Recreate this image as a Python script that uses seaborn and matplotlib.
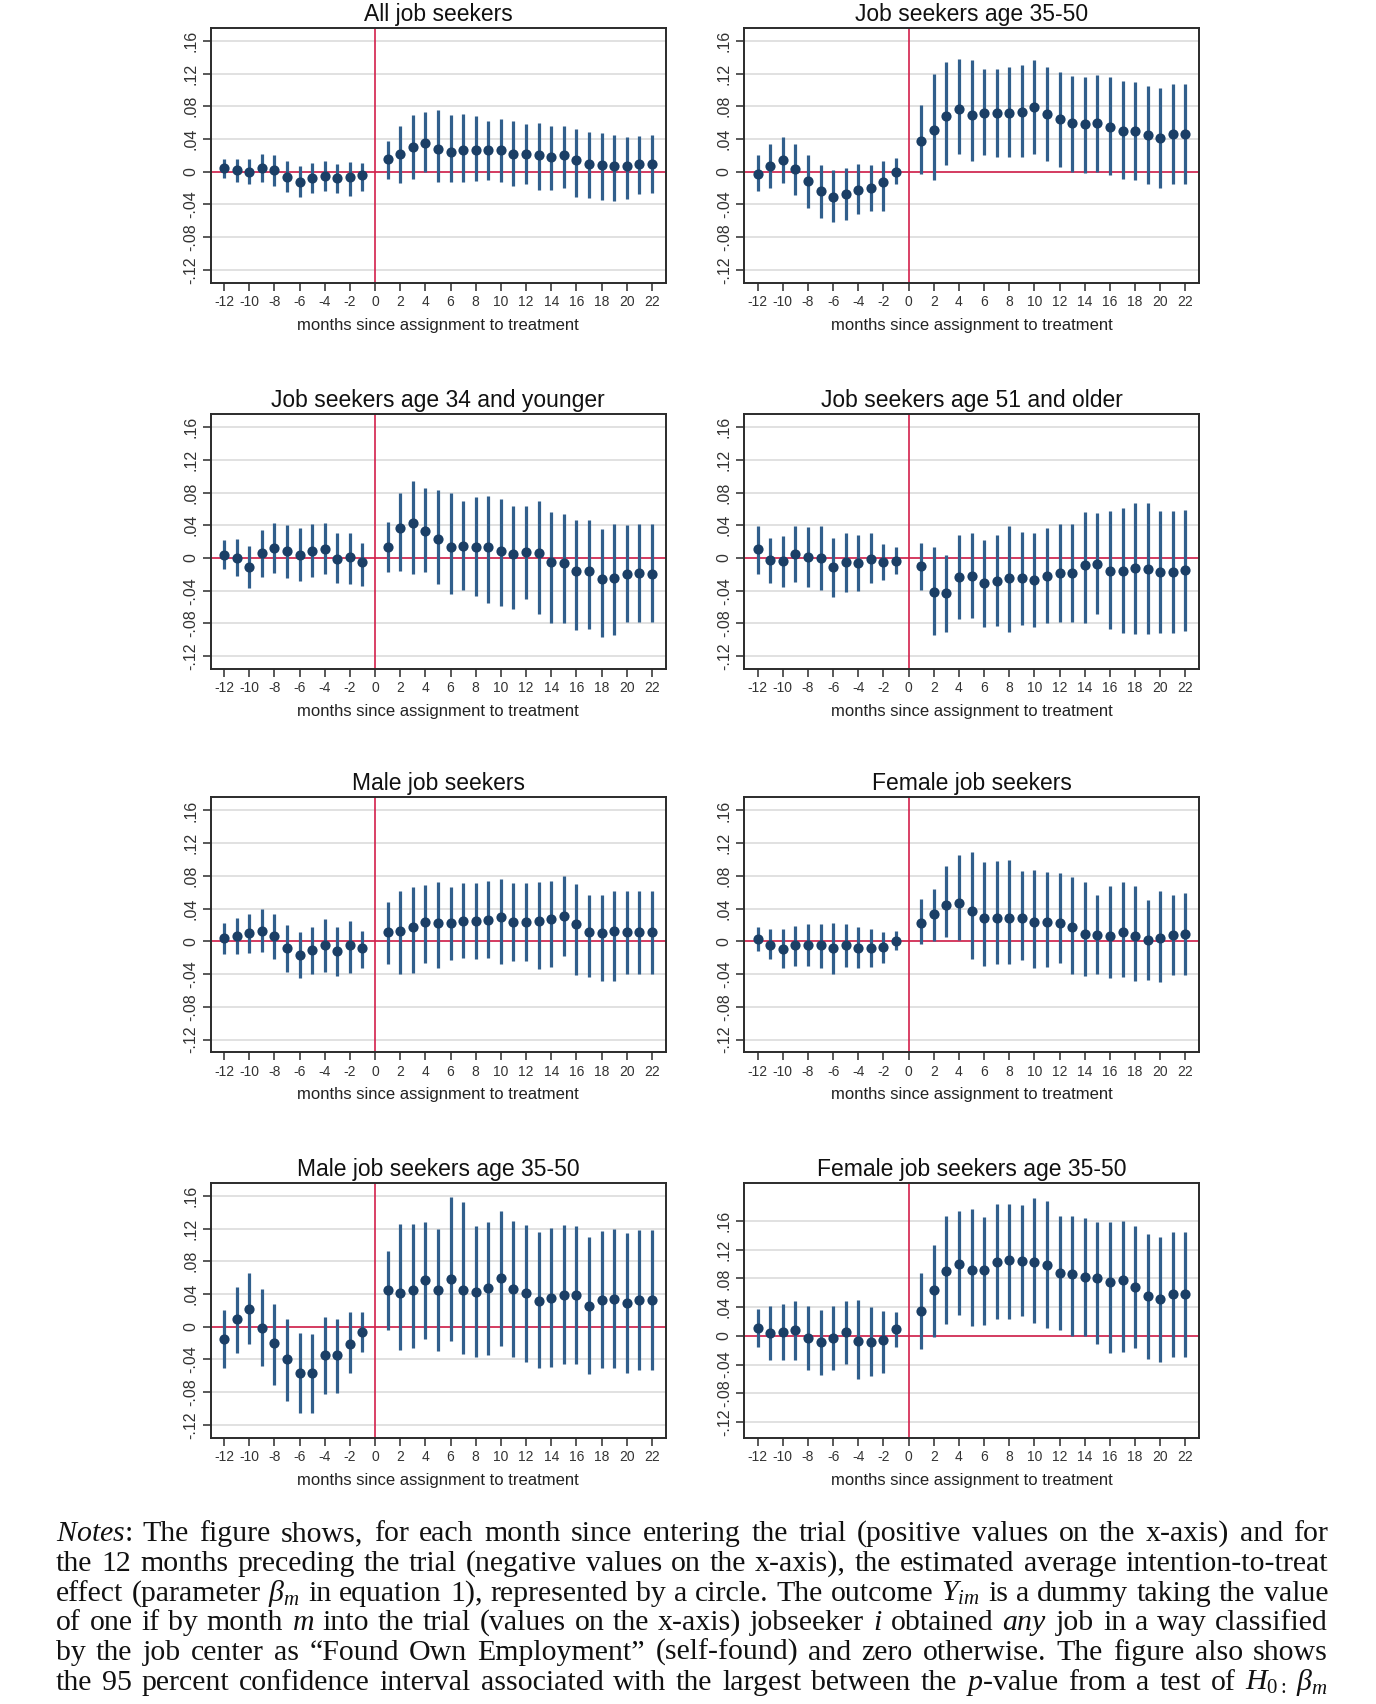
import numpy as np
import pandas as pd
import matplotlib
matplotlib.use("Agg")
import matplotlib.pyplot as plt
import seaborn as sns

# ---------------- data ----------------
months = list(range(-12, 0)) + list(range(1, 23))

titles = ["All job seekers", "Job seekers age 35-50",
          "Job seekers age 34 and younger", "Job seekers age 51 and older",
          "Male job seekers", "Female job seekers",
          "Male job seekers age 35-50", "Female job seekers age 35-50"]

all_est = [0.004, 0.002, 0.000, 0.005, 0.002, -0.006, -0.012, -0.008, -0.005, -0.008, -0.007, -0.004,
           0.015, 0.022, 0.030, 0.035, 0.028, 0.024, 0.026, 0.026, 0.026, 0.026, 0.022, 0.022, 0.020, 0.018,
           0.020, 0.014, 0.010, 0.008, 0.007, 0.007, 0.009, 0.009]
all_hi = [0.015, 0.016, 0.016, 0.022, 0.020, 0.013, 0.007, 0.011, 0.013, 0.009, 0.012, 0.011,
          0.037, 0.056, 0.069, 0.073, 0.076, 0.069, 0.070, 0.068, 0.062, 0.064, 0.062, 0.058, 0.059, 0.056,
          0.056, 0.052, 0.049, 0.047, 0.045, 0.043, 0.044, 0.045]
all_lo = [-0.008, -0.012, -0.015, -0.013, -0.017, -0.025, -0.031, -0.026, -0.024, -0.026, -0.030, -0.024,
          -0.009, -0.014, -0.009, 0.000, -0.012, -0.013, -0.012, -0.011, -0.010, -0.013, -0.018, -0.015,
          -0.022, -0.022, -0.020, -0.031, -0.032, -0.035, -0.036, -0.033, -0.027, -0.026]

mid_est = [-0.003, 0.007, 0.014, 0.003, -0.011, -0.024, -0.031, -0.027, -0.022, -0.020, -0.013, 0.000,
           0.038, 0.051, 0.068, 0.077, 0.069, 0.072, 0.072, 0.072, 0.073, 0.079, 0.070, 0.064, 0.059, 0.058,
           0.059, 0.055, 0.050, 0.050, 0.045, 0.041, 0.046, 0.046]
mid_hi = [0.020, 0.034, 0.043, 0.034, 0.021, 0.008, 0.002, 0.004, 0.009, 0.008, 0.013, 0.017,
          0.082, 0.119, 0.134, 0.138, 0.136, 0.126, 0.126, 0.128, 0.130, 0.136, 0.128, 0.122, 0.117, 0.116,
          0.118, 0.116, 0.111, 0.110, 0.105, 0.102, 0.107, 0.107]
mid_lo = [-0.024, -0.020, -0.014, -0.029, -0.044, -0.057, -0.062, -0.059, -0.052, -0.048, -0.048, -0.015,
          -0.003, -0.010, 0.008, 0.022, 0.013, 0.020, 0.018, 0.018, 0.018, 0.022, 0.013, 0.006, 0.000, -0.001,
          0.000, -0.004, -0.009, -0.010, -0.015, -0.020, -0.015, -0.015]

young_est = [0.004, 0.000, -0.011, 0.006, 0.012, 0.008, 0.004, 0.009, 0.011, -0.001, 0.001, -0.005,
             0.014, 0.037, 0.043, 0.033, 0.023, 0.014, 0.015, 0.013, 0.013, 0.009, 0.005, 0.007, 0.006, -0.005,
             -0.006, -0.016, -0.016, -0.026, -0.024, -0.019, -0.018, -0.019]
young_hi = [0.022, 0.023, 0.015, 0.034, 0.043, 0.040, 0.037, 0.042, 0.043, 0.030, 0.030, 0.018,
            0.044, 0.079, 0.094, 0.085, 0.083, 0.079, 0.070, 0.074, 0.076, 0.072, 0.064, 0.063, 0.070, 0.056,
            0.054, 0.046, 0.046, 0.036, 0.041, 0.040, 0.041, 0.041]
young_lo = [-0.014, -0.022, -0.037, -0.023, -0.018, -0.024, -0.028, -0.023, -0.020, -0.031, -0.032, -0.034,
            -0.017, -0.016, -0.020, -0.017, -0.032, -0.044, -0.039, -0.046, -0.055, -0.059, -0.062, -0.050,
            -0.069, -0.079, -0.080, -0.088, -0.087, -0.097, -0.094, -0.078, -0.078, -0.078]

old_est = [0.011, -0.003, -0.004, 0.005, 0.001, 0.000, -0.011, -0.005, -0.006, -0.001, -0.005, -0.004,
           -0.010, -0.042, -0.043, -0.023, -0.022, -0.031, -0.028, -0.024, -0.025, -0.027, -0.022, -0.018,
           -0.018, -0.009, -0.007, -0.016, -0.016, -0.012, -0.013, -0.017, -0.017, -0.015]
old_hi = [0.039, 0.024, 0.027, 0.039, 0.038, 0.039, 0.025, 0.031, 0.028, 0.030, 0.017, 0.013,
          0.018, 0.013, 0.004, 0.028, 0.031, 0.022, 0.028, 0.039, 0.032, 0.031, 0.037, 0.042, 0.042, 0.056,
          0.055, 0.058, 0.061, 0.067, 0.067, 0.057, 0.057, 0.059]
old_lo = [-0.020, -0.031, -0.036, -0.029, -0.035, -0.039, -0.048, -0.041, -0.040, -0.031, -0.027, -0.020,
          -0.039, -0.094, -0.090, -0.074, -0.073, -0.084, -0.083, -0.090, -0.082, -0.084, -0.080, -0.078,
          -0.078, -0.080, -0.068, -0.087, -0.092, -0.093, -0.093, -0.091, -0.091, -0.089]

male_est = [0.004, 0.007, 0.010, 0.013, 0.007, -0.008, -0.017, -0.011, -0.005, -0.012, -0.004, -0.008,
            0.011, 0.013, 0.018, 0.024, 0.022, 0.022, 0.025, 0.025, 0.026, 0.030, 0.024, 0.024, 0.025, 0.027,
            0.031, 0.021, 0.012, 0.010, 0.013, 0.011, 0.011, 0.011]
male_hi = [0.023, 0.029, 0.034, 0.040, 0.034, 0.020, 0.012, 0.017, 0.027, 0.017, 0.025, 0.013,
           0.048, 0.061, 0.067, 0.069, 0.072, 0.067, 0.071, 0.071, 0.074, 0.076, 0.071, 0.071, 0.073, 0.074,
           0.080, 0.070, 0.057, 0.057, 0.062, 0.061, 0.061, 0.061]
male_lo = [-0.015, -0.015, -0.014, -0.013, -0.022, -0.037, -0.045, -0.040, -0.037, -0.042, -0.039, -0.033,
           -0.028, -0.040, -0.039, -0.027, -0.032, -0.023, -0.020, -0.022, -0.020, -0.028, -0.024, -0.024,
           -0.034, -0.031, -0.018, -0.041, -0.043, -0.049, -0.049, -0.040, -0.040, -0.040]

fem_est = [0.003, -0.004, -0.009, -0.005, -0.004, -0.005, -0.008, -0.005, -0.008, -0.008, -0.007, 0.001,
           0.022, 0.033, 0.044, 0.047, 0.037, 0.029, 0.029, 0.029, 0.028, 0.024, 0.024, 0.022, 0.017, 0.009,
           0.008, 0.006, 0.011, 0.006, 0.002, 0.004, 0.008, 0.009]
fem_hi = [0.018, 0.015, 0.015, 0.019, 0.021, 0.021, 0.023, 0.021, 0.018, 0.015, 0.012, 0.013,
          0.052, 0.064, 0.092, 0.105, 0.109, 0.097, 0.098, 0.099, 0.086, 0.087, 0.085, 0.084, 0.079, 0.072,
          0.057, 0.068, 0.072, 0.068, 0.051, 0.062, 0.057, 0.059]
fem_lo = [-0.012, -0.022, -0.033, -0.030, -0.030, -0.032, -0.040, -0.031, -0.033, -0.031, -0.026, -0.011,
          -0.003, 0.001, 0.005, 0.002, -0.021, -0.030, -0.028, -0.028, -0.023, -0.032, -0.031, -0.026,
          -0.040, -0.042, -0.040, -0.045, -0.043, -0.049, -0.047, -0.050, -0.041, -0.041]

mmid_est = [-0.015, 0.009, 0.022, -0.001, -0.020, -0.040, -0.056, -0.056, -0.035, -0.035, -0.021, -0.007,
            0.045, 0.041, 0.045, 0.057, 0.045, 0.058, 0.045, 0.043, 0.047, 0.059, 0.046, 0.041, 0.032, 0.035,
            0.039, 0.039, 0.025, 0.033, 0.034, 0.029, 0.033, 0.033]
mmid_hi = [0.020, 0.049, 0.066, 0.046, 0.028, 0.009, -0.008, -0.009, 0.012, 0.010, 0.018, 0.018,
           0.093, 0.126, 0.125, 0.128, 0.120, 0.158, 0.152, 0.123, 0.128, 0.141, 0.129, 0.124, 0.116, 0.121,
           0.124, 0.123, 0.110, 0.117, 0.119, 0.115, 0.118, 0.118]
mmid_lo = [-0.050, -0.032, -0.021, -0.048, -0.071, -0.091, -0.105, -0.105, -0.082, -0.081, -0.057, -0.031,
           -0.004, -0.028, -0.026, -0.015, -0.030, -0.018, -0.033, -0.037, -0.035, -0.023, -0.037, -0.043,
           -0.051, -0.049, -0.046, -0.046, -0.058, -0.051, -0.050, -0.056, -0.053, -0.053]

fmid_est = [0.011, 0.004, 0.006, 0.008, -0.003, -0.009, -0.003, 0.005, -0.007, -0.008, -0.006, 0.009,
            0.034, 0.064, 0.090, 0.100, 0.092, 0.091, 0.103, 0.105, 0.104, 0.103, 0.098, 0.088, 0.086, 0.082,
            0.081, 0.075, 0.078, 0.068, 0.055, 0.051, 0.058, 0.058]
fmid_hi = [0.038, 0.041, 0.044, 0.049, 0.041, 0.036, 0.042, 0.049, 0.050, 0.040, 0.034, 0.033,
           0.088, 0.126, 0.166, 0.174, 0.176, 0.165, 0.183, 0.183, 0.182, 0.192, 0.188, 0.166, 0.167, 0.164,
           0.158, 0.158, 0.160, 0.153, 0.141, 0.137, 0.144, 0.144]
fmid_lo = [-0.016, -0.033, -0.033, -0.033, -0.047, -0.055, -0.048, -0.039, -0.060, -0.056, -0.052, -0.016,
           -0.018, -0.001, 0.017, 0.029, 0.013, 0.015, 0.024, 0.024, 0.027, 0.018, 0.011, 0.008, 0.000, 0.000,
           -0.012, -0.024, -0.022, -0.017, -0.032, -0.036, -0.029, -0.029]

panels = [(all_est, all_lo, all_hi), (mid_est, mid_lo, mid_hi),
          (young_est, young_lo, young_hi), (old_est, old_lo, old_hi),
          (male_est, male_lo, male_hi), (fem_est, fem_lo, fem_hi),
          (mmid_est, mmid_lo, mmid_hi), (fmid_est, fmid_lo, fmid_hi)]

x_ticks = list(range(-12, 23, 2))
y_ticks = [-0.12, -0.08, -0.04, 0.0, 0.04, 0.08, 0.12, 0.16]
xlabel_text = "months since assignment to treatment"

notes_lines = [
    [r"$\mathit{Notes}$:", "The", "figure", "shows,", "for", "each", "month", "since", "entering", "the", "trial",
     "(positive", "values", "on", "the", "x-axis)", "and", "for"],
    ["the", "12", "months", "preceding", "the", "trial", "(negative", "values", "on", "the", "x-axis),", "the",
     "estimated", "average", "intention-to-treat"],
    ["effect", "(parameter", r"$\beta_m$", "in", "equation", "1),", "represented", "by", "a", "circle.", "The",
     "outcome", r"$Y_{im}$", "is", "a", "dummy", "taking", "the", "value"],
    ["of", "one", "if", "by", "month", r"$m$", "into", "the", "trial", "(values", "on", "the", "x-axis)",
     "jobseeker", r"$i$", "obtained", r"$\mathit{any}$", "job", "in", "a", "way", "classified"],
    ["by", "the", "job", "center", "as", "\u201cFound", "Own", "Employment\u201d", "(self-found)", "and", "zero",
     "otherwise.", "The", "figure", "also", "shows"],
    ["the", "95", "percent", "confidence", "interval", "associated", "with", "the", "largest", "between", "the",
     r"$p$-value", "from", "a", "test", "of", r"$H_{0:}$", r"$\beta_m$"],
]

# ---------------- style ----------------
sns.set_theme(style="white")
plt.rcParams['font.family'] = ['Liberation Sans', 'DejaVu Sans']
plt.rcParams['mathtext.fontset'] = 'custom'
plt.rcParams['mathtext.rm'] = 'Liberation Serif'
plt.rcParams['mathtext.it'] = 'Liberation Serif:italic'
plt.rcParams['mathtext.bf'] = 'Liberation Serif:bold'

NAVY = "#1b3f66"
STEEL = "#315f8c"
RED = "#d3204c"
GRID = "#dedede"
FRAME = "#2b2b2b"

W, H = 1376, 1704
fig = plt.figure(figsize=(W / 100, H / 100), dpi=100)

col_left = [210.7, 744.3]
ax_w = 455.0
ax_h = 255.0
row_top = [27.7, 414.0, 797.3, 1182.7]


def fmt(v):
    if abs(v) < 1e-9:
        return "0"
    s = f"{v:.2f}"
    return s.replace("0.", ".")


for i, (est, lo, hi) in enumerate(panels):
    r, c = divmod(i, 2)
    left = col_left[c] / W
    bottom = 1 - (row_top[r] + ax_h) / H
    ax = fig.add_axes([left, bottom, ax_w / W, ax_h / H])
    df = pd.DataFrame({"month": months, "est": est, "lo": lo, "hi": hi})

    for yt in y_ticks:
        ax.axhline(yt, color=GRID, lw=1.3, zorder=0)
    ax.axhline(0, color=RED, lw=1.2, zorder=1)
    ax.axvline(0, color=RED, lw=1.2, zorder=1)
    ax.vlines(df["month"], df["lo"], df["hi"], color=STEEL, lw=2.3, zorder=3)
    sns.scatterplot(data=df, x="month", y="est", ax=ax, color=NAVY, s=54,
                    edgecolor=NAVY, linewidth=0, zorder=4, legend=False)

    ax.set_xlim(-13.06, 23.1)
    if i == 7:
        ax.set_ylim(-0.1417, 0.213)
    else:
        ax.set_ylim(-0.1356, 0.176)
    ax.set_xticks(x_ticks)
    ax.set_xticklabels([str(t) for t in x_ticks])
    ax.set_yticks(y_ticks)
    ax.set_yticklabels([fmt(t) for t in y_ticks], rotation=90, va="center")
    ax.tick_params(axis="both", direction="out", length=6, width=1.1, color=FRAME,
                   labelcolor="#333333", pad=3)
    ax.tick_params(axis="x", labelsize=10)
    ax.tick_params(axis="y", labelsize=11.5, pad=3)
    ax.tick_params(bottom=True, left=True)
    for sp in ax.spines.values():
        sp.set_color(FRAME)
        sp.set_linewidth(1.4)
        sp.set_visible(True)
    ax.grid(False)
    ax.set_ylabel("")
    ax.set_xlabel(xlabel_text, fontsize=12, color="#222222", labelpad=6)
    ax.set_title(titles[i], fontsize=16.5, color="#111111", pad=5)

# ---------------- notes (justified) ----------------
fig.canvas.draw()
renderer = fig.canvas.get_renderer()
x0, x1 = 56.0, 1328.0
baselines = [1541, 1571, 1601, 1630, 1660, 1690]
serif = ['Liberation Serif', 'DejaVu Serif']


def word_widths(words, fs):
    ws = []
    for w in words:
        t = fig.text(0, 0, w, fontsize=fs, family=serif)
        bb = t.get_window_extent(renderer=renderer)
        ws.append(bb.width)
        t.remove()
    return ws

# pick font size so the densest line fits with a normal minimum gap
fs = 17.0
space = 0.25 * fs * 100 / 72
maxw = max(sum(word_widths(l, fs)) + space * (len(l) - 1) for l in notes_lines)
fs = fs * (x1 - x0) / maxw * 0.995

for words, yb in zip(notes_lines, baselines):
    ws = word_widths(words, fs)
    gap = ((x1 - x0) - sum(ws)) / (len(words) - 1)
    x = x0
    for w, wd in zip(words, ws):
        fig.text(x / W, 1 - yb / H, w, fontsize=fs, family=serif, color="#111111",
                 ha="left", va="baseline")
        x += wd + gap

fig.savefig("out.png", dpi=100)
